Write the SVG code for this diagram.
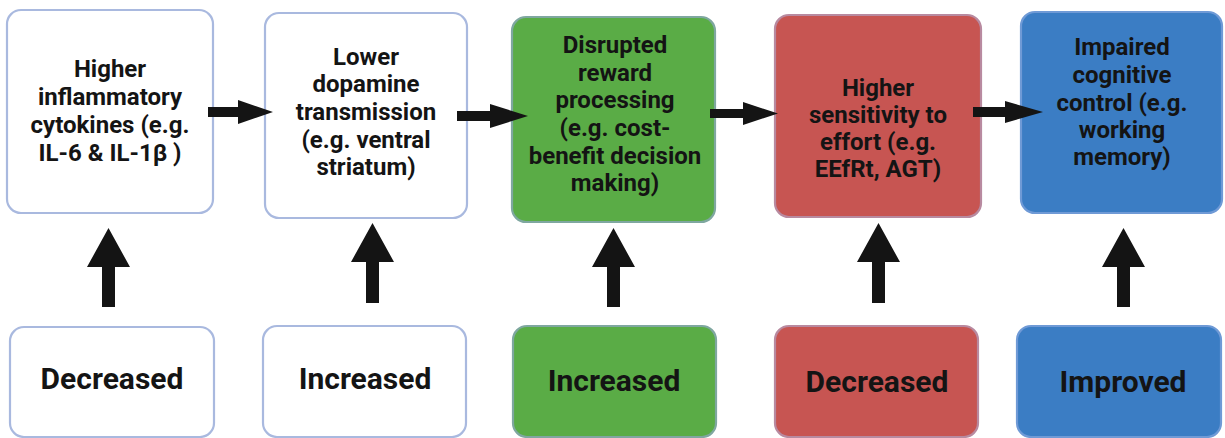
<svg xmlns="http://www.w3.org/2000/svg" width="1225" height="438" viewBox="0 0 1225 438">
<defs>
<style>
.box{stroke:#a9b9df;stroke-width:2.2}
.w{fill:#ffffff}
.g{fill:#5aac46;stroke:#7fa7a0}
.r{fill:#c75552;stroke:#b88aa0}
.b{fill:#3b7dc4;stroke:#6f9ad6}
.t{font-family:Roboto,"Liberation Sans",sans-serif;font-weight:bold;font-size:24px;fill:#141414;text-anchor:middle}
.s{font-family:Roboto,"Liberation Sans",sans-serif;font-weight:bold;font-size:30px;fill:#141414;text-anchor:middle}
.arr{fill:#141414}
</style>
</defs>
<rect width="1225" height="438" fill="#ffffff"/>
<g id="top1"><rect class="box w" x="7" y="10" width="206" height="203" rx="14"/>
<text class="t" x="110"><tspan x="110" y="77">Higher</tspan><tspan x="110" y="105">inflammatory</tspan><tspan x="110" y="133">cytokines (e.g.</tspan><tspan x="110" y="161">IL-6 &amp; IL-1β )</tspan></text></g>
<g id="top2"><rect class="box w" x="265" y="13" width="202" height="205" rx="14"/>
<text class="t" x="366"><tspan x="366" y="65">Lower</tspan><tspan x="366" y="92">dopamine</tspan><tspan x="366" y="120">transmission</tspan><tspan x="366" y="148">(e.g. ventral</tspan><tspan x="366" y="175">striatum)</tspan></text></g>
<g id="top3"><rect class="box g" x="512" y="17" width="203" height="205" rx="14"/>
<text class="t" x="615"><tspan x="615" y="53">Disrupted</tspan><tspan x="615" y="81">reward</tspan><tspan x="615" y="108">processing</tspan><tspan x="615" y="136">(e.g. cost-</tspan><tspan x="615" y="164">benefit decision</tspan><tspan x="615" y="191">making)</tspan></text></g>
<g id="top4"><rect class="box r" x="775" y="15" width="206" height="202" rx="14"/>
<text class="t" x="878"><tspan x="878" y="96">Higher</tspan><tspan x="878" y="123">sensitivity to</tspan><tspan x="878" y="150">effort (e.g.</tspan><tspan x="878" y="177">EEfRt, AGT)</tspan></text></g>
<g id="top5"><rect class="box b" x="1021" y="12" width="201" height="201" rx="14"/>
<text class="t" x="1122"><tspan x="1122" y="55">Impaired</tspan><tspan x="1122" y="83">cognitive</tspan><tspan x="1122" y="111">control (e.g.</tspan><tspan x="1122" y="138">working</tspan><tspan x="1122" y="165">memory)</tspan></text></g>
<g id="bot1"><rect class="box w" x="10" y="327" width="204" height="110" rx="14"/><text class="s" x="112" y="389">Decreased</text></g>
<g id="bot2"><rect class="box w" x="263" y="326" width="203" height="111" rx="14"/><text class="s" x="365" y="389">Increased</text></g>
<g id="bot3"><rect class="box g" x="513" y="326" width="203" height="111" rx="14"/><text class="s" x="614" y="391">Increased</text></g>
<g id="bot4"><rect class="box r" x="775" y="326" width="203" height="111" rx="14"/><text class="s" x="877" y="392">Decreased</text></g>
<g id="bot5"><rect class="box b" x="1017" y="326" width="204" height="111" rx="14"/><text class="s" x="1123" y="392">Improved</text></g>
<g id="connectors" class="arr">
<polygon points="208,107 238,107 238,100 273,112 238,124 238,117 208,117"/>
<polygon points="457,111 490,111 490,104 528,116 490,128 490,121 457,121"/>
<polygon points="710,109 743,109 743,102 778,113.5 743,125 743,118 710,118"/>
<polygon points="973,107 1005,107 1005,101 1043,112 1005,123 1005,117 973,117"/>
<polygon points="102,307 115,307 115,267 130,267 108.5,228 87,267 102,267"/>
<polygon points="366,303 379,303 379,262 394,262 372.5,223 351,262 366,262"/>
<polygon points="607,307 620,307 620,267 635,267 613.5,228 592,267 607,267"/>
<polygon points="872,303 885,303 885,262 900,262 878.5,223 857,262 872,262"/>
<polygon points="1117,307 1130,307 1130,267 1145,267 1123.5,228 1102,267 1117,267"/>
</g>
</svg>
